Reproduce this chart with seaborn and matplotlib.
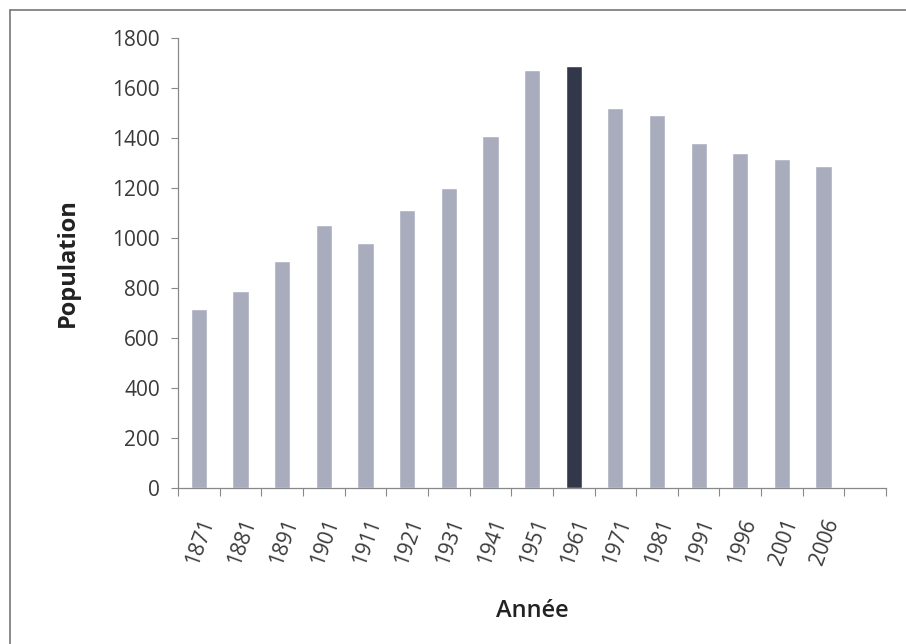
import matplotlib
matplotlib.use("Agg")
import matplotlib.pyplot as plt
import matplotlib.transforms as mtransforms
from matplotlib.lines import Line2D
import seaborn as sns
import pandas as pd

# Census years and population counts
annees = ["1871", "1881", "1891", "1901", "1911", "1921", "1931", "1941",
          "1951", "1961", "1971", "1981", "1991", "1996", "2001", "2006"]
population = [717, 790, 909, 1053, 980, 1113, 1202, 1409,
              1673, 1689, 1522, 1493, 1380, 1339, 1315, 1290]
annee_max = "1961"

couleur_barre = "#a8acbc"
couleur_max = "#33374a"

sns.set_theme(style="white")
plt.rcParams["font.family"] = ["Open Sans", "DejaVu Sans"]

df = pd.DataFrame({"Année": annees, "Population": population})
palette = {a: (couleur_max if a == annee_max else couleur_barre) for a in annees}

fig = plt.figure(figsize=(9.06, 6.44), dpi=100)
ax = fig.add_axes([0.1965, 0.2422, 0.7815, 0.6988])

sns.barplot(data=df, x="Année", y="Population", hue="Année", palette=palette,
            order=annees, width=0.39, legend=False, ax=ax, saturation=1)

n = len(annees)
ax.set_xlim(-0.5, n + 0.5)
ax.set_ylim(0, 1800)
ax.set_yticks(range(0, 1801, 200))

# category boundary tick marks, labels centred on bars
ax.set_xticks([i - 0.5 for i in range(n + 2)], minor=True)
ax.set_xticks(range(n))
ax.set_xticklabels(annees, rotation=70, ha="right", rotation_mode="anchor",
                   fontsize=15, color="#3a3a3a")
decalage = mtransforms.ScaledTranslation(-4 / 72, 0, fig.dpi_scale_trans)
for lab in ax.get_xticklabels():
    lab.set_transform(lab.get_transform() + decalage)
ax.tick_params(axis="x", which="major", length=0, pad=20)
ax.tick_params(axis="x", which="minor", length=6, width=0.8, color="#888888",
               direction="out", bottom=True)
ax.tick_params(axis="y", length=5, width=0.8, color="#888888", direction="out",
               left=True, labelsize=15, labelcolor="#3a3a3a", pad=8)

for side in ["top", "right"]:
    ax.spines[side].set_visible(False)
for side in ["left", "bottom"]:
    ax.spines[side].set_color("#888888")
    ax.spines[side].set_linewidth(0.9)

ax.set_xlabel("Année", fontsize=17, fontweight="semibold", color="#222222",
              labelpad=22)
ax.set_ylabel("Population", fontsize=17, fontweight="bold", color="#222222",
              labelpad=23)

# outer frame of the figure
fig.add_artist(Line2D([10 / 906, 1.0], [1 - 10 / 644, 1 - 10 / 644],
                      transform=fig.transFigure, color="#777777", lw=1.2))
fig.add_artist(Line2D([10 / 906, 10 / 906], [0.0, 1 - 10 / 644],
                      transform=fig.transFigure, color="#777777", lw=1.2))

fig.savefig("out.png", dpi=100)
